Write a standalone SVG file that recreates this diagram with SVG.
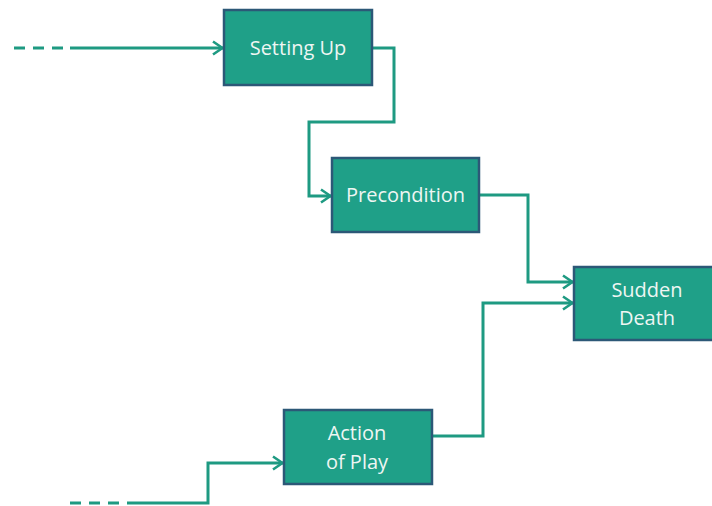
<svg xmlns="http://www.w3.org/2000/svg" width="712" height="506" viewBox="0 0 712 506">
  <style>
    .box { fill: #1fa088; stroke: #2c5877; stroke-width: 2.5; }
    .lbl { fill: #eef6f3; font-family: "Open Sans", "Noto Sans", sans-serif; font-size: 20px; text-anchor: middle; }
    .wire { fill: none; stroke: #1e9a82; stroke-width: 3; }
    .dash { fill: none; stroke: #1e9a82; stroke-width: 3; stroke-dasharray: 11 8; }
  </style>
  <defs>
    <marker id="arrow" viewBox="0 0 14 16" refX="13" refY="8" markerWidth="14" markerHeight="16" markerUnits="userSpaceOnUse" orient="auto">
      <path d="M3,1.5 L12.5,8 L3,14.5" fill="none" stroke="#1e9a82" stroke-width="2.6"/>
    </marker>
  </defs>
  <rect width="712" height="506" fill="#ffffff"/>

  <g id="connectors">
    <!-- incoming to Setting Up -->
    <path class="dash" d="M14,48 H70"/>
    <path class="wire" d="M70,48 H223" marker-end="url(#arrow)"/>
    <!-- Setting Up to Precondition -->
    <path class="wire" d="M372,48 H394 V122 H309 V196 H331" marker-end="url(#arrow)"/>
    <!-- Precondition to Sudden Death -->
    <path class="wire" d="M479,195 H528 V282 H573" marker-end="url(#arrow)"/>
    <!-- incoming to Action of Play -->
    <path class="dash" d="M70,503 H130"/>
    <path class="wire" d="M130,503 H208 V463 H283" marker-end="url(#arrow)"/>
    <!-- Action of Play to Sudden Death -->
    <path class="wire" d="M432,436 H483 V303 H573" marker-end="url(#arrow)"/>
  </g>

  <g id="setting-up">
    <rect class="box" x="224" y="10" width="148" height="75"/>
    <text class="lbl" x="298" y="55">Setting Up</text>
  </g>
  <g id="precondition">
    <rect class="box" x="332" y="158" width="147" height="74"/>
    <text class="lbl" x="405.5" y="202">Precondition</text>
  </g>
  <g id="sudden-death">
    <rect class="box" x="574" y="267" width="150" height="73"/>
    <text class="lbl" x="647" y="297">Sudden</text>
    <text class="lbl" x="647" y="325">Death</text>
  </g>
  <g id="action-of-play">
    <rect class="box" x="284" y="410" width="148" height="74"/>
    <text class="lbl" x="357" y="440">Action</text>
    <text class="lbl" x="357" y="469">of Play</text>
  </g>
</svg>
